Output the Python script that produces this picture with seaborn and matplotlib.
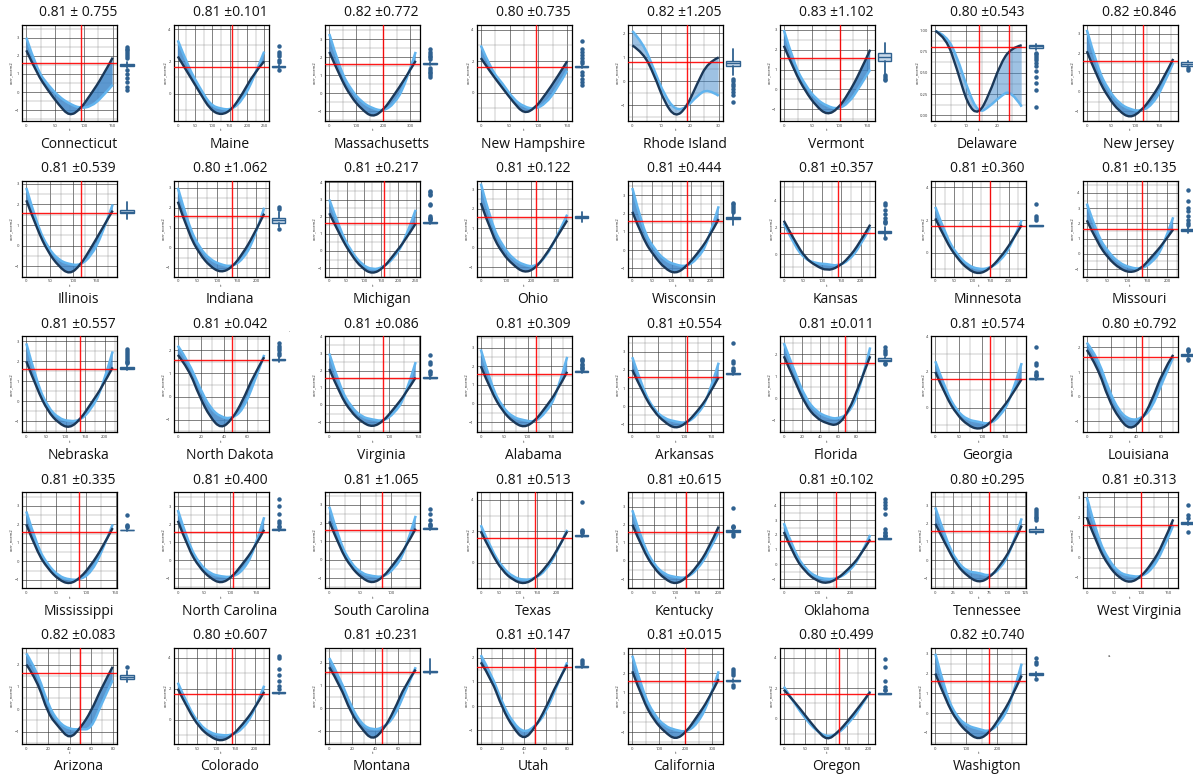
import matplotlib
matplotlib.use("Agg")
import matplotlib.pyplot as plt
import seaborn as sns
from matplotlib.path import Path
from matplotlib.patches import PathPatch
from matplotlib.ticker import MultipleLocator

sns.set_theme(style="white")
plt.rcParams["font.family"] = ["Open Sans", "DejaVu Sans"]

# ---- data ----
STATES = ["Connecticut", "Maine", "Massachusetts", "New Hampshire", "Rhode Island", "Vermont", "Delaware", "New Jersey",
          "Illinois", "Indiana", "Michigan", "Ohio", "Wisconsin", "Kansas", "Minnesota", "Missouri",
          "Nebraska", "North Dakota", "Virginia", "Alabama", "Arkansas", "Florida", "Georgia", "Louisiana",
          "Mississippi", "North Carolina", "South Carolina", "Texas", "Kentucky", "Oklahoma", "Tennessee", "West Virginia",
          "Arizona", "Colorado", "Montana", "Utah", "California", "Oregon", "Washigton"]

TITLES = ["0.81 \u00b1 0.755", "0.81 \u00b10.101", "0.82 \u00b10.772", "0.80 \u00b10.735", "0.82 \u00b11.205",
          "0.83 \u00b11.102", "0.80 \u00b10.543", "0.82 \u00b10.846",
          "0.81 \u00b10.539", "0.80 \u00b11.062", "0.81 \u00b10.217", "0.81 \u00b10.122", "0.81 \u00b10.444",
          "0.81 \u00b10.357", "0.81 \u00b10.360", "0.81 \u00b10.135",
          "0.81 \u00b10.557", "0.81 \u00b10.042", "0.81 \u00b10.086", "0.81 \u00b10.309", "0.81 \u00b10.554",
          "0.81 \u00b10.011", "0.81 \u00b10.574", "0.80 \u00b10.792",
          "0.81 \u00b10.335", "0.81 \u00b10.400", "0.81 \u00b11.065", "0.81 \u00b10.513", "0.81 \u00b10.615",
          "0.81 \u00b10.102", "0.80 \u00b10.295", "0.81 \u00b10.313",
          "0.82 \u00b10.083", "0.80 \u00b10.607", "0.81 \u00b10.231", "0.81 \u00b10.147", "0.81 \u00b10.015",
          "0.80 \u00b10.499", "0.82 \u00b10.740"]

XMAX = [150, 250, 320, 150, 30, 155, 28, 180,
        185, 220, 250, 345, 220, 225, 235, 215,
        220, 75, 145, 185, 165, 95, 185, 70,
        145, 165, 140, 230, 200, 260, 120, 160,
        80, 225, 75, 80, 325, 205, 280]
XSTEP = [50, 50, 100, 50, 10, 50, 10, 50,
         50, 50, 50, 100, 50, 50, 50, 50,
         50, 20, 50, 50, 50, 20, 50, 20,
         50, 50, 50, 50, 50, 100, 25, 50,
         20, 50, 20, 20, 100, 50, 100]

YLIM = [(-1.6, 3.7), (-1.7, 4.25), (-1.55, 3.8), (-1.8, 4.3), (-1.65, 2.35), (-1.6, 3.25), (-0.07, 1.07), (-1.5, 3.45),
        (-1.5, 3.15), (-1.45, 3.35), (-1.5, 4.1), (-1.5, 3.45), (-1.45, 3.8), (-1.7, 5.5), (-1.45, 4.4), (-1.5, 4.8),
        (-1.55, 3.25), (-1.55, 2.6), (-1.6, 4.0), (-1.55, 3.6), (-1.45, 3.85), (-1.55, 2.8), (-1.4, 4.0), (-1.45, 2.45),
        (-1.45, 3.75), (-1.55, 3.8), (-1.55, 3.7), (-1.6, 4.5), (-1.5, 3.8), (-1.6, 4.9), (-1.55, 3.75), (-1.5, 3.25),
        (-1.55, 2.75), (-1.55, 4.65), (-1.55, 2.65), (-1.55, 2.4), (-1.6, 3.3), (-1.65, 4.65), (-1.55, 3.3)]
YSTEP = [1, 2, 1, 2, 1, 1, 0.25, 1,
         1, 1, 1, 1, 1, 2, 2, 1,
         1, 1, 1, 1, 1, 1, 2, 1,
         1, 1, 1, 2, 1, 1, 1, 1,
         1, 2, 1, 1, 1, 2, 1]

VLINES = [[95], [157], [200], [95], [19], [100], [14, 24], [118],
          [118], [138], [158], [222], [140], [140], [148], [137],
          [137], [47], [90], [118], [105], [67], [118], [45],
          [88], [105], [85], [145], [125], [158], [75], [100],
          [50], [140], [46], [50], [200], [130], [175]]
HLINE = [1.6, 1.65, 1.6, 1.6, 0.8, 1.6, 0.81, 1.6,
         1.6, 1.6, 1.65, 1.6, 1.6, 1.6, 1.65, 1.65,
         1.6, 1.6, 1.6, 1.6, 1.6, 1.6, 1.6, 1.6,
         1.6, 1.6, 1.6, 1.6, 1.6, 1.6, 1.6, 1.6,
         1.6, 1.65, 1.6, 1.6, 1.6, 1.6, 1.6]

# curve envelopes sampled at 9 evenly spaced fractions of the t range
FRAC = [0, 0.125, 0.25, 0.375, 0.5, 0.625, 0.75, 0.875, 1]
DARK = [
    [2.3, 1.0, 0.1, -0.7, -1.35, -0.95, -0.1, 0.8, 1.9],
    [2.3, 1.2, 0.1, -1.0, -1.35, -1.0, 0.0, 1.2, 2.0],
    [2.3, 0.9, -0.2, -0.9, -1.35, -0.95, -0.1, 0.8, 1.8],
    [2.2, 1.2, 0.3, -0.6, -1.35, -1.0, -0.1, 0.9, 2.0],
    [1.5, 1.2, 0.3, -0.9, -1.5, -1.1, -0.1, 0.8, 1.0],
    [2.2, 0.9, -0.1, -0.85, -1.3, -1.0, -0.2, 0.8, 2.0],
    [1.0, 0.92, 0.55, 0.12, 0.0, 0.25, 0.6, 0.8, 0.83],
    [2.1, 0.7, -0.3, -1.0, -1.35, -1.0, -0.3, 0.6, 1.7],
    [2.2, 0.8, -0.3, -1.0, -1.4, -0.95, -0.1, 0.8, 1.7],
    [2.3, 0.7, -0.3, -0.95, -1.25, -1.0, -0.3, 0.6, 1.7],
    [2.2, 0.9, -0.2, -1.0, -1.35, -1.0, -0.2, 0.6, 1.6],
    [2.3, 0.7, -0.3, -0.9, -1.3, -1.1, -0.4, 0.5, 1.4],
    [2.1, 0.6, -0.3, -1.0, -1.3, -0.9, -0.2, 0.6, 1.7],
    [2.5, 1.0, -0.3, -0.9, -1.25, -1.0, -0.3, 0.8, 2.2],
    [2.1, 0.7, -0.3, -1.0, -1.3, -1.0, -0.3, 0.6, 1.7],
    [2.2, 0.7, -0.3, -0.95, -1.25, -1.0, -0.2, 0.6, 1.6],
    [2.0, 0.6, -0.5, -1.1, -1.35, -0.9, -0.1, 0.7, 1.7],
    [1.8, 1.2, 0.0, -0.9, -1.4, -1.0, -0.2, 0.9, 1.7],
    [2.1, 0.6, -0.4, -1.0, -1.3, -0.95, -0.2, 0.6, 1.6],
    [2.0, 0.6, -0.4, -1.0, -1.3, -0.95, -0.2, 0.6, 1.7],
    [2.0, 0.7, -0.3, -0.9, -1.25, -0.95, -0.3, 0.5, 1.6],
    [1.9, 0.8, -0.3, -0.9, -1.15, -1.25, -0.6, 0.6, 1.9],
    [2.0, 0.6, -0.4, -1.0, -1.25, -0.95, -0.2, 0.6, 1.6],
    [1.9, 1.2, -0.1, -0.9, -1.35, -1.0, -0.2, 1.0, 1.7],
    [2.0, 0.5, -0.4, -1.0, -1.25, -0.9, -0.2, 0.7, 1.8],
    [2.2, 0.6, -0.4, -1.0, -1.3, -0.95, -0.2, 0.6, 1.7],
    [2.1, 0.6, -0.4, -1.0, -1.3, -0.95, -0.2, 0.6, 1.7],
    [2.0, 0.6, -0.5, -1.1, -1.35, -1.0, -0.3, 0.7, 2.0],
    [2.0, 0.6, -0.4, -1.0, -1.3, -0.95, -0.3, 0.6, 1.9],
    [2.2, 0.5, -0.5, -1.1, -1.3, -0.95, -0.3, 0.5, 1.7],
    [2.0, 0.8, -0.3, -0.9, -1.25, -1.0, -0.3, 0.6, 1.9],
    [2.0, 0.6, -0.4, -1.0, -1.25, -0.95, -0.3, 0.6, 1.9],
    [2.0, 1.3, -0.2, -0.8, -1.35, -0.85, -0.1, 1.0, 1.9],
    [2.0, 0.6, -0.5, -1.1, -1.4, -1.05, -0.3, 0.6, 1.8],
    [1.8, 1.0, -0.2, -0.9, -1.4, -0.95, -0.1, 1.0, 1.7],
    [1.8, 1.1, -0.1, -0.9, -1.4, -0.9, -0.1, 0.9, 1.7],
    [2.1, 0.6, -0.4, -1.0, -1.4, -1.0, -0.2, 0.6, 1.7],
    [1.9, 1.1, 0.2, -0.7, -1.45, -0.9, -0.1, 0.8, 1.75],
    [2.0, 0.6, -0.4, -1.0, -1.35, -1.0, -0.2, 0.7, 1.9],
]
LIGHT = [
    [3.0, 1.2, 0.4, -0.25, -0.65, -0.9, -0.8, -0.3, 0.4],
    [3.3, 1.6, 0.4, -0.7, -0.95, -1.0, -0.4, 0.9, 2.6],
    [3.3, 1.3, 0.2, -0.5, -0.85, -1.0, -0.6, 0.4, 2.3],
    [3.0, 1.4, 0.6, -0.4, -0.9, -1.05, -0.7, 0.2, 1.4],
    [2.1, 1.6, 0.5, -0.6, -1.2, -1.1, -0.6, -0.3, -0.6],
    [3.0, 1.2, 0.2, -0.5, -0.85, -1.0, -0.7, 0.1, 1.0],
    [1.0, 0.95, 0.7, 0.3, 0.02, 0.1, 0.22, 0.3, 0.1],
    [3.2, 1.2, 0.1, -0.6, -0.9, -1.0, -0.7, 0.2, 1.5],
    [2.8, 1.0, -0.1, -0.7, -0.9, -0.95, -0.5, 0.5, 2.0],
    [3.0, 1.1, 0.0, -0.6, -0.85, -0.95, -0.6, 0.3, 2.0],
    [3.0, 1.2, 0.0, -0.8, -1.1, -0.95, -0.4, 0.6, 2.4],
    [3.3, 1.2, 0.1, -0.6, -0.9, -1.0, -0.5, 0.5, 1.7],
    [3.4, 1.1, 0.1, -0.55, -0.8, -0.9, -0.5, 0.4, 2.4],
    [2.3, 0.6, -0.4, -0.7, -0.75, -0.9, -0.5, 0.5, 2.0],
    [2.8, 1.0, -0.1, -0.75, -1.0, -0.95, -0.5, 0.4, 2.0],
    [3.3, 1.2, 0.1, -0.6, -0.9, -1.0, -0.6, 0.3, 2.4],
    [2.9, 0.9, -0.3, -0.85, -1.0, -0.95, -0.4, 0.6, 2.5],
    [2.2, 1.5, 0.4, -0.5, -0.9, -0.95, -0.6, 0.5, 1.8],
    [3.0, 1.0, -0.1, -0.7, -0.85, -0.95, -0.5, 0.4, 2.5],
    [2.9, 0.9, -0.2, -0.75, -0.9, -1.0, -0.5, 0.4, 2.5],
    [2.7, 0.9, -0.2, -0.7, -0.85, -0.95, -0.5, 0.4, 2.4],
    [2.5, 1.2, 0.0, -0.6, -0.85, -0.95, -0.7, 0.3, 2.3],
    [2.6, 0.9, -0.2, -0.7, -0.8, -0.95, -0.5, 0.5, 2.5],
    [2.2, 1.6, 0.3, -0.6, -0.95, -0.9, -0.5, 0.6, 1.6],
    [2.7, 0.8, -0.2, -0.8, -1.0, -1.0, -0.6, 0.5, 2.0],
    [2.8, 0.9, -0.2, -0.75, -0.9, -0.95, -0.6, 0.4, 2.4],
    [2.9, 0.9, -0.2, -0.75, -0.9, -0.95, -0.5, 0.4, 2.4],
    [2.4, 0.8, -0.3, -0.9, -1.1, -1.0, -0.5, 0.6, 2.1],
    [2.8, 0.9, -0.2, -0.75, -0.9, -0.95, -0.5, 0.4, 1.6],
    [2.8, 0.8, -0.3, -0.85, -1.0, -0.95, -0.5, 0.4, 2.0],
    [2.9, 1.1, -0.1, -0.65, -0.7, -0.9, -0.5, 0.5, 2.3],
    [3.0, 1.0, -0.1, -0.75, -0.9, -0.95, -0.6, 0.3, 1.6],
    [2.5, 1.7, 0.2, -0.6, -0.9, -0.9, -0.9, 0.3, 1.3],
    [2.4, 0.8, -0.3, -0.85, -1.0, -1.0, -0.6, 0.4, 2.2],
    [2.2, 1.3, 0.1, -0.7, -0.95, -0.85, -0.4, 0.7, 1.8],
    [2.1, 1.3, 0.1, -0.7, -1.1, -0.85, -0.3, 0.8, 1.8],
    [2.9, 1.0, -0.1, -0.7, -0.9, -1.0, -0.6, 0.4, 2.1],
    [2.1, 1.0, 0.0, -0.8, -1.2, -1.0, -0.3, 0.6, 1.8],
    [3.0, 0.9, -0.2, -0.65, -0.8, -0.95, -0.5, 0.5, 2.5],
]

# box stats: whisker low, q1, median, q3, whisker high
BOX = [
    [1.35, 1.45, 1.5, 1.55, 1.65], [1.55, 1.62, 1.65, 1.68, 1.75], [1.55, 1.6, 1.65, 1.7, 1.75],
    [1.55, 1.6, 1.65, 1.7, 1.75], [0.26, 0.65, 0.78, 0.85, 1.37], [0.75, 1.45, 1.65, 1.85, 2.35],
    [0.77, 0.80, 0.815, 0.835, 0.84], [1.25, 1.35, 1.42, 1.52, 1.6],
    [1.3, 1.6, 1.65, 1.72, 2.1], [1.05, 1.25, 1.38, 1.5, 1.8], [1.6, 1.63, 1.66, 1.7, 1.75],
    [1.3, 1.55, 1.6, 1.65, 1.85], [1.35, 1.68, 1.75, 1.82, 2.0], [1.3, 1.55, 1.65, 1.75, 2.0],
    [1.62, 1.64, 1.65, 1.67, 1.7], [1.4, 1.5, 1.57, 1.65, 1.75],
    [1.55, 1.6, 1.65, 1.7, 1.8], [1.5, 1.57, 1.6, 1.63, 1.7], [1.5, 1.55, 1.6, 1.65, 1.7],
    [1.65, 1.7, 1.72, 1.75, 1.8], [1.7, 1.75, 1.8, 1.85, 1.9], [1.6, 1.7, 1.75, 1.8, 1.85],
    [1.55, 1.6, 1.62, 1.65, 1.7], [1.6, 1.65, 1.7, 1.72, 1.78],
    [1.65, 1.68, 1.7, 1.72, 1.75], [1.65, 1.7, 1.72, 1.75, 1.8], [1.65, 1.7, 1.72, 1.75, 1.8],
    [1.65, 1.7, 1.72, 1.75, 1.78], [1.55, 1.6, 1.65, 1.7, 1.75], [1.7, 1.73, 1.75, 1.78, 1.8],
    [1.45, 1.55, 1.62, 1.72, 1.85], [1.6, 1.65, 1.7, 1.75, 1.8],
    [1.2, 1.35, 1.45, 1.55, 1.7], [1.65, 1.7, 1.75, 1.78, 1.8], [1.5, 1.58, 1.6, 1.63, 2.15],
    [1.55, 1.6, 1.62, 1.65, 1.7], [1.55, 1.6, 1.62, 1.65, 1.7], [1.6, 1.62, 1.65, 1.68, 1.7],
    [1.85, 1.92, 1.98, 2.05, 2.1],
]
FLIERS = [
    [2.5, 2.4, 2.3, 2.2, 2.1, 2.0, 1.9, 1.2, 1.0, 0.8, 0.55, 0.3, 0.1],
    [2.95, 2.6, 2.45, 2.3, 2.1, 1.95, 1.45],
    [2.45, 2.3, 2.2, 2.1, 2.0, 1.9, 1.4, 1.3, 1.2, 1.1, 1.0, 0.9],
    [3.3, 2.8, 2.6, 2.4, 2.2, 2.0, 1.9, 1.3, 1.1, 0.9, 0.7, 0.5],
    [0.1, 0.0, -0.1, -0.2, -0.3, -0.45, -0.55, -0.85],
    [0.7, 0.6, 0.5, 0.45],
    [0.74, 0.72, 0.70, 0.68, 0.65, 0.62, 0.58, 0.52, 0.45, 0.38, 0.3, 0.1],
    [1.25, 1.15],
    [],
    [2.05, 1.95, 0.95],
    [3.5, 3.45, 3.3, 3.25, 2.75, 2.7, 2.05, 1.95, 1.9, 1.85, 1.8],
    [],
    [2.6, 2.5, 2.4, 2.3, 2.2, 2.1],
    [3.8, 3.7, 3.3, 3.0, 2.7, 2.5, 2.4, 2.3, 1.2],
    [3.0, 2.25, 2.15, 2.0],
    [4.2, 3.5, 3.0, 2.8, 2.5, 2.2, 2.0, 1.9],
    [2.6, 2.5, 2.4, 2.3, 2.2, 2.1, 2.0, 1.95, 1.9],
    [2.3, 2.2, 2.1, 2.0, 1.9, 1.8],
    [2.9, 2.5, 2.4, 2.0, 1.9, 1.8],
    [2.4, 2.35, 2.3, 2.1, 2.05, 1.95, 1.9, 1.85],
    [3.5, 2.5, 2.4, 2.1, 2.0, 1.95],
    [2.3, 2.2, 2.1, 2.0, 1.6, 1.55],
    [3.4, 2.5, 2.4, 2.0, 1.9, 1.85, 1.8],
    [1.95, 1.9, 1.85, 1.55, 1.5],
    [2.5, 1.95, 1.9, 1.85],
    [3.4, 3.0, 2.6, 2.2, 2.1, 1.9, 1.85],
    [2.8, 2.5, 2.2, 1.95, 1.9, 1.85],
    [3.9, 2.1, 2.0, 1.95, 1.9],
    [2.9, 1.95, 1.9, 1.85, 1.5, 1.4],
    [4.4, 4.2, 4.0, 3.8, 3.4, 2.4, 2.2, 2.1, 2.0, 1.95, 1.9],
    [2.8, 2.7, 2.6, 2.5, 2.4, 2.3, 2.2],
    [2.6, 2.1, 1.95, 1.3],
    [1.9],
    [4.1, 4.0, 3.3, 2.9, 2.5, 2.2, 2.0],
    [],
    [1.9, 1.8, 1.75],
    [2.2, 2.1, 2.0, 1.9, 1.4, 1.3],
    [3.9, 3.4, 2.5, 2.05, 1.9, 1.85],
    [2.8, 2.6, 2.5, 1.7],
]

DARK_C, FILL_C, LIGHT_C = sns.blend_palette(["#1b3858", "#3f86c8", "#62b4ee"], 3)
BOX_C = "#2f6190"
SPREAD_PANELS = {"Rhode Island", "Delaware"}  # curves fan out widely, band drawn lighter


def smooth_path(xs, ys, start=True):
    """Quadratic-Bezier path through the read points (smooth line style)."""
    n = len(xs)
    verts = [(xs[0], ys[0])]
    codes = [Path.MOVETO if start else Path.LINETO]
    for k in range(1, n - 1):
        if k < n - 2:
            end = ((xs[k] + xs[k + 1]) / 2, (ys[k] + ys[k + 1]) / 2)
        else:
            end = (xs[k + 1], ys[k + 1])
        verts += [(xs[k], ys[k]), end]
        codes += [Path.CURVE3, Path.CURVE3]
    return verts, codes


W, H = 1193, 778
fig = plt.figure(figsize=(W / 100, H / 100), dpi=100)
fig.patch.set_facecolor("white")

for i, state in enumerate(STATES):
    r, c = divmod(i, 8)
    L = 22 + 151.5 * c
    T = 25 + 155.7 * r
    ax = fig.add_axes([L / W, 1 - (T + 96) / H, 95 / W, 96 / H])
    bx = fig.add_axes([(L + 96) / W, 1 - (T + 96) / H, 18 / W, 96 / H], sharey=ax)

    t = [f * XMAX[i] for f in FRAC]
    dv, dc = smooth_path(t, DARK[i])
    lv, lc = smooth_path(t[::-1], LIGHT[i][::-1], start=False)
    band = Path(dv + lv + [dv[0]], dc + lc + [Path.CLOSEPOLY])
    alpha = 0.5 if state in SPREAD_PANELS else 0.85
    ax.add_patch(PathPatch(band, facecolor=FILL_C, edgecolor="none", alpha=alpha, zorder=2))
    lv2, lc2 = smooth_path(t, LIGHT[i])
    ax.add_patch(PathPatch(Path(lv2, lc2), facecolor="none", edgecolor=LIGHT_C, lw=1.8, zorder=3))
    ax.add_patch(PathPatch(Path(dv, dc), facecolor="none", edgecolor=DARK_C, lw=1.7, zorder=3))

    for v in VLINES[i]:
        ax.axvline(v, color="red", lw=1.0, alpha=0.9, zorder=4)
    ax.axhline(HLINE[i], color="red", lw=1.0, alpha=0.9, zorder=4)

    ax.set_xlim(-0.05 * XMAX[i], 1.05 * XMAX[i])
    ax.set_ylim(*YLIM[i])
    ax.xaxis.set_major_locator(MultipleLocator(XSTEP[i]))
    ax.xaxis.set_minor_locator(MultipleLocator(XSTEP[i] / 2))
    ax.yaxis.set_major_locator(MultipleLocator(YSTEP[i]))
    ax.yaxis.set_minor_locator(MultipleLocator(YSTEP[i] / 2))
    ax.set_axisbelow(True)
    ax.grid(which="major", color="#3c3c3c", lw=0.45)
    ax.grid(which="minor", color="#8a8a8a", lw=0.3)
    ax.tick_params(which="major", labelsize=3, length=1.2, width=0.4, pad=0.8, colors="#333333")
    ax.tick_params(which="minor", length=0)
    ax.set_xlabel("t", fontsize=3, labelpad=0.5)
    ax.set_ylabel("corr_norm2", fontsize=3, labelpad=0.8)
    for s in ax.spines.values():
        s.set_color("black")
        s.set_linewidth(0.9)

    b = BOX[i]
    stats = [{"whislo": b[0], "q1": b[1], "med": b[2], "q3": b[3], "whishi": b[4], "fliers": FLIERS[i]}]
    bx.bxp(stats, positions=[0], widths=0.75, patch_artist=True, showcaps=False,
           boxprops=dict(facecolor="#c8d9ea", edgecolor=BOX_C, lw=1.0),
           whiskerprops=dict(color=BOX_C, lw=1.3),
           medianprops=dict(color=BOX_C, lw=1.0),
           flierprops=dict(marker="o", markersize=2.2, markerfacecolor=BOX_C, markeredgecolor=BOX_C))
    bx.set_xlim(-0.5, 0.5)
    bx.axis("off")

    cx = (L + L + 113) / 2
    fig.text(cx / W, 1 - (T - 12) / H, TITLES[i], ha="center", va="center", fontsize=10, color="#111111")
    fig.text(cx / W, 1 - (T + 119) / H, state, ha="center", va="center", fontsize=10, color="#111111")

# stray marks present in the source figure
fig.text(1108 / W, 1 - 657 / H, "a-", fontsize=3, color="#444444")
fig.text(289 / W, 1 - 332 / H, ".", fontsize=4, color="#444444")

fig.savefig("out.png", dpi=100)
